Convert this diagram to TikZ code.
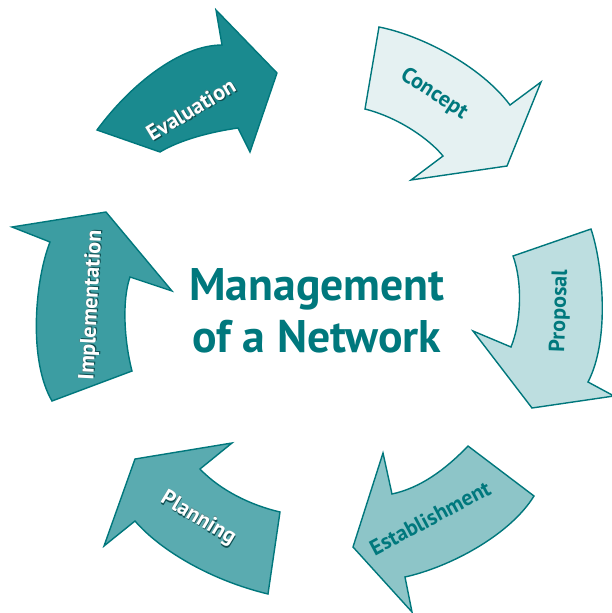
\documentclass[tikz,border=0pt]{standalone}
\usepackage{fontspec}
\setmainfont{PT Sans}
\usepackage{tikz}

\definecolor{tealline}{HTML}{00777C}
\definecolor{titletext}{HTML}{00787D}
\definecolor{evalfill}{HTML}{1A8A8F}
\definecolor{concfill}{HTML}{E5F1F2}
\definecolor{propfill}{HTML}{BDDEE0}
\definecolor{estfill}{HTML}{8DC5C8}
\definecolor{planfill}{HTML}{5AABB0}
\definecolor{implfill}{HTML}{3C9DA2}
\definecolor{shade}{HTML}{0E4F52}

% white label with a soft dark copy behind it
\newcommand{\halo}[1]{%
  \makebox[0pt][l]{\hspace{0.6pt}\raisebox{-0.6pt}{\textcolor{shade}{#1}}}%
  \makebox[0pt][l]{\hspace{-0.3pt}\raisebox{0.3pt}{\textcolor{shade!70}{#1}}}%
  #1}

\begin{document}
\begin{tikzpicture}[x=0.02cm,y=-0.02cm]
  \tikzset{arrowshape/.style = {draw=tealline, line width=0.8pt, line join=miter}}
  \tikzset{arrowlabel/.style = {font=\bfseries\fontsize{12.5}{14}\selectfont, inner sep=0pt}}
  \tikzset{title/.style = {font=\bfseries\fontsize{26}{29.6}\selectfont, text=titletext, align=center}}

\useasboundingbox (0,0) rectangle (612,613);

% Evaluation
\draw[arrowshape, fill=evalfill] (97,130) .. controls (130,85) and (180,45) .. (222,45)
   -- (216,10) -- (277,73) -- (250,152) -- (238,128)
   .. controls (210,132) and (180,140) .. (160,152) -- cycle;
% Concept
\draw[arrowshape, fill=concfill] (379,27) .. controls (420,35) and (480,65) .. (510,105)
   -- (541,82) -- (507,166) -- (411,180) -- (443,156)
   .. controls (430,140) and (400,118) .. (365,109) -- cycle;
% Proposal
\draw[arrowshape, fill=propfill] (591,229) .. controls (603,265) and (610,340) .. (588,382)
   -- (614,396) -- (532,408) -- (473,331) -- (511,347)
   .. controls (522,320) and (522,280) .. (513,256) -- cycle;
% Establishment
\draw[arrowshape, fill=estfill] (468,446) .. controls (445,470) and (420,488) .. (392,494)
   -- (383,453) -- (353,547) -- (412,612) -- (405,577)
   .. controls (450,567) and (510,535) .. (534,496) -- cycle;
% Planning
\draw[arrowshape, fill=planfill] (280,512) .. controls (250,505) and (220,490) .. (200,469)
   -- (232,443) -- (135,459) -- (104,546) -- (135,521)
   .. controls (160,550) and (210,580) .. (268,594) -- cycle;
% Implementation
\draw[arrowshape, fill=implfill] (132,371) .. controls (124,340) and (122,300) .. (130,277)
   -- (172,291) -- (106,212) -- (12,227) -- (50,242)
   .. controls (35,280) and (28,360) .. (52,401) -- cycle;

\node[arrowlabel, text=white, rotate=31] (eval) at (191,110) {\halo{Evaluation}};
\node[arrowlabel, text=titletext, rotate=-33] (conc) at (434,94) {Concept};
\node[arrowlabel, text=titletext, rotate=88] (prop) at (560,311) {Proposal};
\node[arrowlabel, text=titletext, rotate=28] (est) at (430,518) {Establishment};
\node[arrowlabel, text=white, rotate=-31] (plan) at (198,519) {\halo{Planning}};
\node[arrowlabel, text=white, rotate=87] (impl) at (92,305) {\halo{Implementation}};

\node[title] (centre) at (317,311) {Management\\of a Network};

\end{tikzpicture}
\end{document}
